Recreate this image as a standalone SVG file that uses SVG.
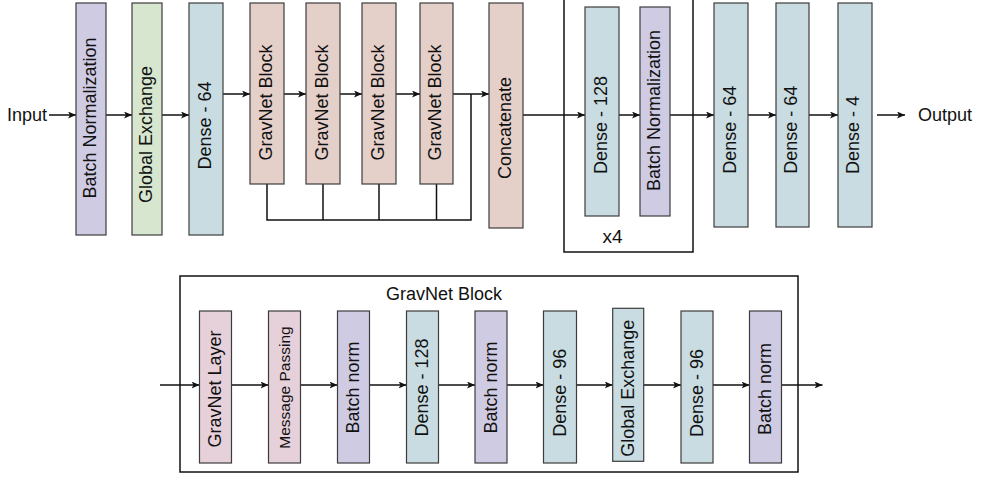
<svg xmlns="http://www.w3.org/2000/svg" width="986" height="477" viewBox="0 0 986 477">
<style>
.bg{fill:#ffffff}
.box{stroke:#3c3c3c;stroke-width:1.2}
.bn{fill:#cfcbe3}
.ge{fill:#d6e6cf}
.de{fill:#c9dce2}
.gb{fill:#e5cfc9}
.gl{fill:#e6d0da}
.frame{fill:none;stroke:#111111;stroke-width:1.5}
.lbl{font-family:"Liberation Sans",Arial,sans-serif;font-size:18px;fill:#111111}
.rot{text-anchor:middle;dominant-baseline:central}
.small{font-size:15.5px}
.wire{fill:none;stroke:#111111;stroke-width:1.5}
.arr{marker-end:url(#ah)}
</style>
<defs>
<marker id="ah" markerUnits="userSpaceOnUse" markerWidth="9" markerHeight="8" refX="8" refY="3.5" orient="auto">
<path d="M0,0 L8,3.5 L0,7 L2,3.5 Z" fill="#111111"/>
</marker>
</defs>
<rect class="bg" x="0" y="0" width="986" height="477"/>

<g id="connectors">
<line class="wire arr" x1="49" y1="115" x2="76" y2="115"/>
<line class="wire arr" x1="106" y1="115" x2="132" y2="115"/>
<line class="wire arr" x1="162" y1="115" x2="189" y2="115"/>
<line class="wire arr" x1="223" y1="94" x2="250" y2="94"/>
<line class="wire arr" x1="284" y1="94" x2="306" y2="94"/>
<line class="wire arr" x1="340" y1="94" x2="362" y2="94"/>
<line class="wire arr" x1="396" y1="94" x2="420" y2="94"/>
<line class="wire arr" x1="453" y1="94" x2="489" y2="94"/>
<polyline class="wire" points="267,184 267,220 471,220 471,94"/>
<line class="wire" x1="323" y1="184" x2="323" y2="220"/>
<line class="wire" x1="379" y1="184" x2="379" y2="220"/>
<line class="wire" x1="436.5" y1="184" x2="436.5" y2="220"/>
<line class="wire arr" x1="523" y1="115" x2="585" y2="115"/>
<line class="wire arr" x1="619" y1="115" x2="640" y2="115"/>
<line class="wire arr" x1="670" y1="115" x2="714" y2="115"/>
<line class="wire arr" x1="748" y1="115" x2="776" y2="115"/>
<line class="wire arr" x1="809" y1="115" x2="838" y2="115"/>
<line class="wire arr" x1="877" y1="115" x2="905" y2="115"/>

<line class="wire arr" x1="160" y1="385" x2="199.5" y2="385"/>
<line class="wire arr" x1="231.5" y1="385" x2="268.5" y2="385"/>
<line class="wire arr" x1="300.5" y1="385" x2="337.5" y2="385"/>
<line class="wire arr" x1="369.5" y1="385" x2="406.5" y2="385"/>
<line class="wire arr" x1="438.5" y1="385" x2="475" y2="385"/>
<line class="wire arr" x1="507" y1="385" x2="543.5" y2="385"/>
<line class="wire arr" x1="576.5" y1="385" x2="612.7" y2="385"/>
<line class="wire arr" x1="643.7" y1="385" x2="681" y2="385"/>
<line class="wire arr" x1="713" y1="385" x2="749.5" y2="385"/>
<line class="wire arr" x1="781.5" y1="385" x2="822.5" y2="385"/>
</g>

<g id="input"><text class="lbl" x="47" y="121" text-anchor="end">Input</text></g>
<g id="output"><text class="lbl" x="918" y="121">Output</text></g>

<g id="bn1"><rect class="box bn" x="76" y="3" width="30" height="232"/><text class="lbl rot" transform="translate(89.5,118) rotate(-90)">Batch Normalization</text></g>
<g id="ge1"><rect class="box ge" x="132" y="3" width="30" height="232"/><text class="lbl rot" transform="translate(145.5,134.5) rotate(-90)">Global Exchange</text></g>
<g id="dense64a"><rect class="box de" x="189" y="3" width="34" height="232"/><text class="lbl rot" transform="translate(204.5,125.5) rotate(-90)">Dense - 64</text></g>
<g id="gravnet1"><rect class="box gb" x="250" y="3" width="34" height="181"/><text class="lbl rot" transform="translate(265.5,102.5) rotate(-90)">GravNet Block</text></g>
<g id="gravnet2"><rect class="box gb" x="306" y="3" width="34" height="181"/><text class="lbl rot" transform="translate(321.5,102.5) rotate(-90)">GravNet Block</text></g>
<g id="gravnet3"><rect class="box gb" x="362" y="3" width="34" height="181"/><text class="lbl rot" transform="translate(377.5,102.5) rotate(-90)">GravNet Block</text></g>
<g id="gravnet4"><rect class="box gb" x="420" y="3" width="33" height="181"/><text class="lbl rot" transform="translate(435,102.5) rotate(-90)">GravNet Block</text></g>
<g id="concat"><rect class="box gb" x="489" y="3" width="34" height="225"/><text class="lbl rot" transform="translate(504.5,128) rotate(-90)">Concatenate</text></g>

<g id="repeat4">
<rect class="frame" x="564" y="-2" width="129" height="254"/>
<text class="lbl" x="612.5" y="243" text-anchor="middle" style="font-size:19px">x4</text>
</g>
<g id="dense128a"><rect class="box de" x="585" y="7" width="34" height="209"/><text class="lbl rot" transform="translate(600.5,125) rotate(-90)">Dense - 128</text></g>
<g id="bn2"><rect class="box bn" x="640" y="7" width="30" height="209"/><text class="lbl rot" transform="translate(653.5,110.5) rotate(-90)">Batch Normalization</text></g>
<g id="dense64b"><rect class="box de" x="714" y="3" width="34" height="224"/><text class="lbl rot" transform="translate(729.5,129.7) rotate(-90)">Dense - 64</text></g>
<g id="dense64c"><rect class="box de" x="776" y="3" width="33" height="224"/><text class="lbl rot" transform="translate(791,129.7) rotate(-90)">Dense - 64</text></g>
<g id="dense4"><rect class="box de" x="838" y="3" width="34" height="224"/><text class="lbl rot" transform="translate(853,135) rotate(-90)">Dense - 4</text></g>

<g id="gravnet-block-detail">
<rect class="frame" x="180" y="276" width="618" height="196"/>
<text class="lbl" x="444" y="299.5" text-anchor="middle">GravNet Block</text>
</g>
<g id="gravnet-layer"><rect class="box gl" x="199.5" y="311" width="32" height="152"/><text class="lbl rot" transform="translate(215,389) rotate(-90)">GravNet Layer</text></g>
<g id="message-passing"><rect class="box gl" x="268.5" y="311" width="32" height="152"/><text class="lbl rot small" transform="translate(284,387.5) rotate(-90)">Message Passing</text></g>
<g id="bnorm1"><rect class="box bn" x="337.5" y="311" width="32" height="152"/><text class="lbl rot" transform="translate(353,387.5) rotate(-90)">Batch norm</text></g>
<g id="dense128b"><rect class="box de" x="406.5" y="311" width="32" height="152"/><text class="lbl rot" transform="translate(422,387.5) rotate(-90)">Dense - 128</text></g>
<g id="bnorm2"><rect class="box bn" x="475" y="311" width="32" height="152"/><text class="lbl rot" transform="translate(490.5,387.5) rotate(-90)">Batch norm</text></g>
<g id="dense96a"><rect class="box de" x="543.5" y="311" width="33" height="152"/><text class="lbl rot" transform="translate(559.5,392.7) rotate(-90)">Dense - 96</text></g>
<g id="ge2"><rect class="box de" x="612.7" y="308.3" width="31" height="153"/><text class="lbl rot" transform="translate(627.7,388.3) rotate(-90)">Global Exchange</text></g>
<g id="dense96b"><rect class="box de" x="681" y="311" width="32" height="152"/><text class="lbl rot" transform="translate(696.5,393) rotate(-90)">Dense - 96</text></g>
<g id="bnorm3"><rect class="box bn" x="749.5" y="311" width="32" height="152"/><text class="lbl rot" transform="translate(765,389) rotate(-90)">Batch norm</text></g>
</svg>
